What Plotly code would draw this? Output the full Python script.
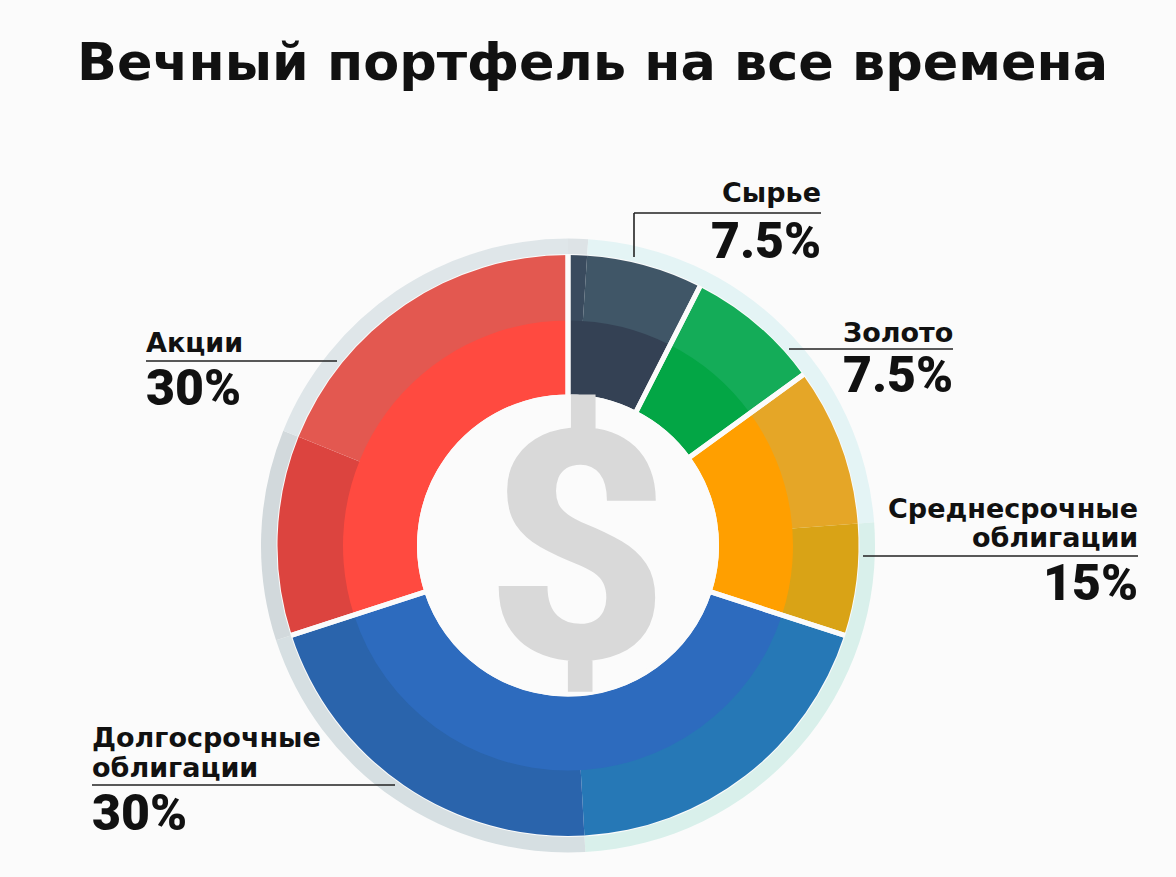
import plotly.graph_objects as go

W, H = 1176, 877
CX, CY = 568, 545.5
BG = "#FBFBFB"
INK = "#111111"

TITLE = "Вечный портфель на все времена"
CATEGORIES = ["Сырье", "Золото", "Среднесрочные облигации", "Долгосрочные облигации", "Акции"]
SLICE_VALUES = [7.5, 7.5, 15, 40, 30]
SHOWN_SHARES = ["7.5%", "7.5%", "15%", "30%", "30%"]
INNER_COLORS = ["#344154", "#03A645", "#FF9F00", "#2D6BBE", "#FF4A40"]

BAND_VALUES = [1.05, 6.45, 7.5, 8.8, 6.2, 19.1, 20.9, 11.1, 18.9]
BAND_COLORS = ["#3A4B5E", "#405667", "#14AC58", "#E5A627", "#D9A316",
               "#2678B6", "#2A64AC", "#DC443F", "#E35850"]

RIM_VALUES = [1.05, 22.75, 25.3, 20.9, 11.1, 18.9]
RIM_COLORS = ["#DDE3E6", "#E4F4F5", "#D9F0EB", "#D6DFE2", "#D2D9DC", "#DFE6E9"]


def dom(r):
    return dict(x=[(CX - r) / W, (CX + r) / W], y=[1 - (CY + r) / H, 1 - (CY - r) / H])


def px(x):
    return x / W


def py(y):
    return 1 - y / H


def ring(values, colors, r, hole, line=None):
    return go.Pie(values=values, sort=False, direction="clockwise", rotation=0,
                  domain=dom(r), hole=hole, textinfo="none", hoverinfo="skip",
                  showlegend=False, marker=dict(colors=colors, line=line or dict(width=0)))


fig = go.Figure([
    ring(BAND_VALUES, BAND_COLORS, 290.5, 0.76),
    ring(SLICE_VALUES, INNER_COLORS, 225, 151 / 225),
    ring(SLICE_VALUES, ["rgba(0,0,0,0)"] * 5, 300, 148.5 / 300, dict(color=BG, width=5)),
    ring(RIM_VALUES, RIM_COLORS, 307, 291.5 / 307),
])

F = "DejaVu Sans"
P = "Roboto"


def text(x, y, s, size, anchor="left", weight=700, color=INK, family=F):
    return dict(x=px(x), y=py(y), xref="paper", yref="paper", text=s, showarrow=False,
                xanchor=anchor, yanchor="middle", align=anchor,
                font=dict(family=family, size=size, color=color, weight=weight))


annotations = [
    text(577, 548, "$", 320, "center", 800, "#D9D9D9", "Roboto"),
    text(592.5, 62, TITLE, 52.4, "center", 700),
    text(823, 193, CATEGORIES[0], 27, "right"),
    text(823, 241, SHOWN_SHARES[0], 50, "right", 900, INK, P),
    text(955, 332, CATEGORIES[1], 27, "right"),
    text(955, 375, SHOWN_SHARES[1], 50, "right", 900, INK, P),
    text(1140, 508, "Среднесрочные", 27, "right"),
    text(1140, 537, "облигации", 27, "right"),
    text(1140, 583, SHOWN_SHARES[2], 50, "right", 900, INK, P),
    text(90, 737, "Долгосрочные", 27),
    text(90, 767, "облигации", 27),
    text(90, 813, SHOWN_SHARES[3], 50, "left", 900, INK, P),
    text(144, 342, CATEGORIES[4], 27),
    text(144, 388, SHOWN_SHARES[4], 50, "left", 900, INK, P),
]


def seg(x0, y0, x1, y1):
    return dict(type="line", xref="paper", yref="paper", x0=px(x0), y0=py(y0), x1=px(x1), y1=py(y1),
                line=dict(color="#222222", width=1.6))


shapes = [seg(634, 213, 821, 213), seg(634, 213, 634, 257), seg(789, 349, 953, 349),
          seg(863, 556, 1138, 556), seg(146, 361, 337, 361), seg(92, 785, 395, 785)]

fig.update_layout(width=W, height=H, margin=dict(l=0, r=0, t=0, b=0), paper_bgcolor=BG,
                  plot_bgcolor=BG, annotations=annotations, shapes=shapes)
fig.write_html("out.html", config=dict(displayModeBar=False),
               post_script="document.body.style.margin='0';document.body.style.overflow='hidden';")
